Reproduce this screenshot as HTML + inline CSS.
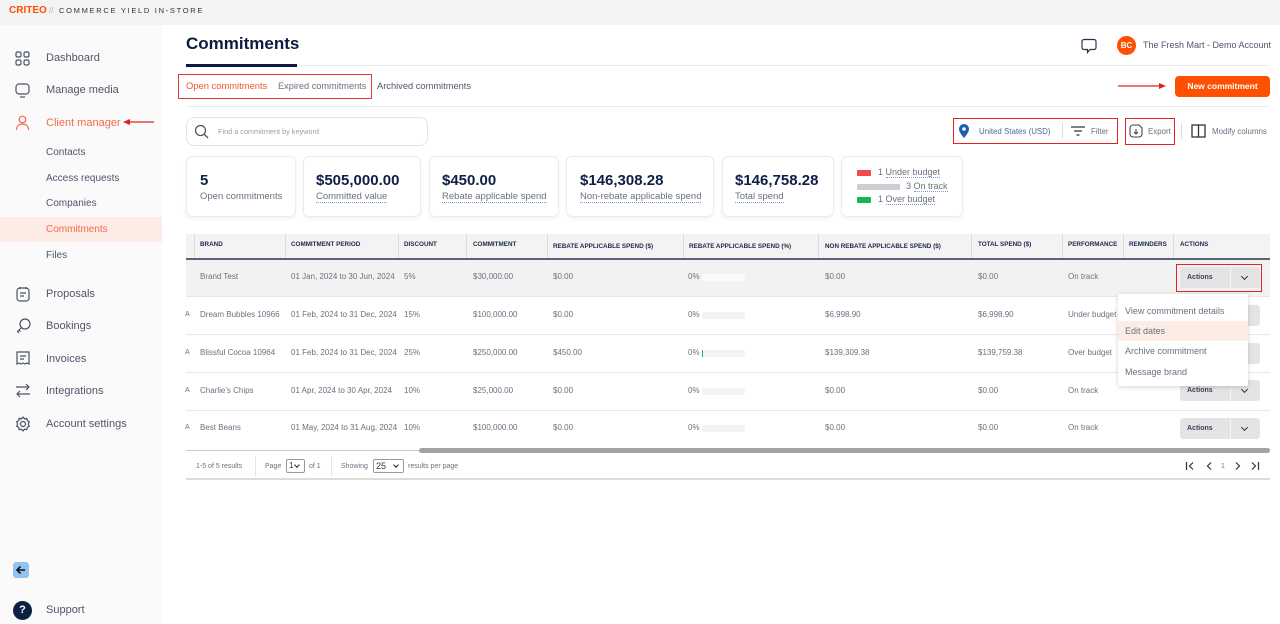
<!DOCTYPE html>
<html><head><meta charset="utf-8"><style>
*{margin:0;padding:0;box-sizing:border-box}
body{width:1280px;height:624px;overflow:hidden;background:#fff;font-family:"Liberation Sans",Arial,sans-serif;position:relative;color:#555d6e}
.a{position:absolute;white-space:nowrap}
.t{position:absolute;white-space:nowrap;line-height:12px;height:12px}
.nav{font-size:11px;color:#4f5668}
.sub{font-size:10px;color:#4f5668}
.th{position:absolute;white-space:nowrap;font-size:6.3px;font-weight:bold;color:#1d2748;line-height:8px}
.td{position:absolute;white-space:nowrap;font-size:8px;color:#6b7080;line-height:10px}
.vs{position:absolute;top:234px;width:1px;height:24px;background:#dcdcdc}
.card{position:absolute;top:156px;height:61px;border:1px solid #ececec;border-radius:6px;background:#fff;box-shadow:0 2px 4px rgba(0,0,0,.05)}
.cv{position:absolute;font-size:15px;font-weight:bold;color:#0f1f47;line-height:16px;white-space:nowrap}
.cl{position:absolute;font-size:9.5px;color:#6b7080;line-height:11px;white-space:nowrap}
.dl{border-bottom:1px dotted #7a9bd0}
.btn{position:absolute;width:80px;height:21px;background:#e4e4e4;border-radius:3px}
.btn span{position:absolute;left:7px;top:0;line-height:21px;font-size:7px;font-weight:bold;color:#3a4256}
.btn i{position:absolute;left:50px;top:0;width:1px;height:21px;background:#f4f4f4}
.btn b{position:absolute;left:62px;top:7px;width:5px;height:5px;border-right:1.3px solid #333;border-bottom:1.3px solid #333;transform:rotate(45deg)}
.bar{position:absolute;width:43px;height:7px;background:#f3f3f3;border-radius:2px}
.rl{position:absolute;left:186px;width:1084px;height:1px;background:#e8e8e8}
</style></head><body>

<!-- top bar -->
<div class="a" style="left:0;top:0;width:1280px;height:25px;background:#f3f3f3"></div>
<div class="t" style="left:9px;top:5px;font-size:10px;font-weight:bold;color:#fe5000;letter-spacing:0">CRITEO</div>
<div class="t" style="left:49px;top:5px;font-size:8px;color:#b5b5b5">//</div>
<div class="t" style="left:59px;top:5px;font-size:7.5px;color:#333;letter-spacing:1.7px">COMMERCE YIELD IN-STORE</div>

<!-- sidebar -->
<div class="a" style="left:0;top:25px;width:162px;height:599px;background:#fafafa"></div>
<svg class="a" style="left:15px;top:51px" width="15" height="15" viewBox="0 0 15 15" fill="none" stroke="#4a5268" stroke-width="1.2"><rect x="1" y="1" width="5" height="5" rx="1.5"/><rect x="9" y="1" width="5" height="5" rx="1.5"/><rect x="1" y="9" width="5" height="5" rx="1.5"/><rect x="9" y="9" width="5" height="5" rx="1.5"/></svg>
<div class="t nav" style="left:46px;top:52px">Dashboard</div>
<svg class="a" style="left:15px;top:83px" width="15" height="15" viewBox="0 0 15 15" fill="none" stroke="#4a5268" stroke-width="1.2"><rect x="1" y="1" width="13" height="10" rx="3"/><path d="M5 14h5"/></svg>
<div class="t nav" style="left:46px;top:84px">Manage media</div>
<svg class="a" style="left:15px;top:115px" width="15" height="16" viewBox="0 0 15 16" fill="none" stroke="#f26b4b" stroke-width="1.2"><circle cx="7.5" cy="4.5" r="3.3"/><path d="M1.5 15c0-4 2.5-6 6-6s6 2 6 6"/></svg>
<div class="t nav" style="left:46px;top:117px;color:#f26b4b">Client manager</div>
<svg class="a" style="left:123px;top:118px" width="32" height="8"><path d="M31 4H4" stroke="#e02020" stroke-width="1.2"/><path d="M0 4L7 1v6z" fill="#e02020"/></svg>
<div class="t sub" style="left:46px;top:147px">Contacts</div>
<div class="t sub" style="left:46px;top:173px">Access requests</div>
<div class="t sub" style="left:46px;top:198px">Companies</div>
<div class="a" style="left:0;top:217px;width:162px;height:25px;background:#fdebe5"></div>
<div class="t sub" style="left:46px;top:224px;color:#f26b4b">Commitments</div>
<div class="t sub" style="left:46px;top:250px">Files</div>
<svg class="a" style="left:16px;top:286px" width="14" height="16" viewBox="0 0 14 16" fill="none" stroke="#4a5268" stroke-width="1.2"><rect x="1" y="2" width="12" height="13" rx="3"/><path d="M4 1v2M10 1v2M4 7h6M4 10h4"/></svg>
<div class="t nav" style="left:46px;top:288px">Proposals</div>
<svg class="a" style="left:16px;top:318px" width="15" height="16" viewBox="0 0 15 16" fill="none" stroke="#4a5268" stroke-width="1.2"><circle cx="9" cy="6" r="5"/><path d="M5.5 9.5L1.5 13.5l1.5 1.5M3 12l1.5 1.5"/></svg>
<div class="t nav" style="left:46px;top:320px">Bookings</div>
<svg class="a" style="left:16px;top:351px" width="14" height="15" viewBox="0 0 14 15" fill="none" stroke="#4a5268" stroke-width="1.2"><path d="M1 1h12v12l-2-1-2 1-2-1-2 1-2-1-2 1z"/><path d="M4 5h6M4 8h4"/></svg>
<div class="t nav" style="left:46px;top:353px">Invoices</div>
<svg class="a" style="left:15px;top:383px" width="16" height="15" viewBox="0 0 16 15" fill="none" stroke="#4a5268" stroke-width="1.2"><path d="M1 4h13M11 1l3 3-3 3M15 11H2M5 8l-3 3 3 3"/></svg>
<div class="t nav" style="left:46px;top:385px">Integrations</div>
<svg class="a" style="left:15px;top:416px" width="16" height="16" viewBox="0 0 16 16" fill="none" stroke="#4a5268" stroke-width="1.2"><circle cx="8" cy="8" r="2.5"/><path d="M8 1l1.5 1.8 2.3-.5.5 2.3 2 1.2-1 2.2 1 2.2-2 1.2-.5 2.3-2.3-.5L8 15l-1.5-1.8-2.3.5-.5-2.3-2-1.2 1-2.2-1-2.2 2-1.2.5-2.3 2.3.5z"/></svg>
<div class="t nav" style="left:46px;top:418px">Account settings</div>
<div class="a" style="left:13px;top:562px;width:16px;height:16px;background:#93c2f2;border-radius:3px"></div>
<svg class="a" style="left:15px;top:564px" width="12" height="12"><path d="M10 6H2M5.5 2.5L2 6l3.5 3.5" fill="none" stroke="#111" stroke-width="1.6"/></svg>
<div class="a" style="left:13px;top:601px;width:19px;height:19px;border-radius:50%;background:#0d1f45;color:#fff;font-size:11px;font-weight:bold;text-align:center;line-height:19px">?</div>
<div class="t nav" style="left:46px;top:604px">Support</div>

<!-- header -->
<div class="a" style="left:186px;top:34px;font-size:17px;font-weight:bold;color:#0d1b3e;line-height:20px">Commitments</div>
<div class="a" style="left:186px;top:65px;width:1084px;height:1px;background:#ebebeb"></div>
<div class="a" style="left:186px;top:64px;width:111px;height:3px;background:#0d1b3e"></div>
<svg class="a" style="left:1081px;top:38px" width="16" height="16" viewBox="0 0 16 16" fill="none" stroke="#2a3350" stroke-width="1.2"><path d="M3 1.5h10a2 2 0 0 1 2 2v6a2 2 0 0 1-2 2H9l-2.5 3v-3H3a2 2 0 0 1-2-2v-6a2 2 0 0 1 2-2z"/></svg>
<div class="a" style="left:1117px;top:36px;width:19px;height:19px;border-radius:50%;background:#fe5000;color:#fff;font-size:8px;font-weight:bold;text-align:center;line-height:19px">BC</div>
<div class="t" style="left:1143px;top:39px;font-size:9px;color:#4f5668">The Fresh Mart - Demo Account</div>

<!-- tabs -->
<div class="t" style="left:186px;top:80px;font-size:9.4px;color:#f2542d">Open commitments</div>
<div class="t" style="left:278px;top:80px;font-size:9.2px;color:#6b7080">Expired commitments</div>
<div class="t" style="left:377px;top:80px;font-size:9.3px;color:#4f5668">Archived commitments</div>
<div class="a" style="left:178px;top:74px;width:194px;height:25px;border:1.5px solid #e23a3a"></div>
<div class="a" style="left:186px;top:106px;width:1084px;height:1px;background:#ebebeb"></div>
<svg class="a" style="left:1118px;top:82px" width="48" height="8"><path d="M0 4h42" stroke="#e02020" stroke-width="1.2"/><path d="M48 4l-7-3v6z" fill="#e02020"/></svg>
<div class="a" style="left:1175px;top:76px;width:95px;height:21px;background:#fe5000;border-radius:4px;color:#fff;font-size:8.5px;font-weight:bold;text-align:center;line-height:21px">New commitment</div>

<!-- search + toolbar -->
<div class="a" style="left:186px;top:117px;width:242px;height:29px;border:1px solid #e3e3e3;border-radius:8px"></div>
<svg class="a" style="left:194px;top:124px" width="15" height="15" fill="none" stroke="#555" stroke-width="1.3"><circle cx="6.5" cy="6.5" r="5"/><path d="M10 10l4 4"/></svg>
<div class="t" style="left:218px;top:126px;font-size:7.3px;color:#9a9ea8">Find a commitment by keyword</div>

<div class="a" style="left:953px;top:118px;width:165px;height:26px;border:1.5px solid #e02424"></div>
<svg class="a" style="left:959px;top:124px" width="10" height="14" viewBox="0 0 10 14"><path d="M5 0a5 5 0 0 1 5 5c0 3.5-5 9-5 9S0 8.5 0 5a5 5 0 0 1 5-5z" fill="#1a5fb4"/><circle cx="5" cy="5" r="1.8" fill="#fff"/></svg>
<div class="t" style="left:979px;top:126px;font-size:7.9px;color:#4e6a94">United States (USD)</div>
<div class="a" style="left:1062px;top:123px;width:1px;height:16px;background:#ddd"></div>
<svg class="a" style="left:1071px;top:125px" width="14" height="12" stroke="#333" stroke-width="1.3"><path d="M0 2h14M3 6h8M5.5 10h3"/></svg>
<div class="t" style="left:1091px;top:126px;font-size:7.9px;color:#6b7080">Filter</div>
<div class="a" style="left:1125px;top:118px;width:50px;height:27px;border:1.5px solid #e02424"></div>
<svg class="a" style="left:1129px;top:124px" width="14" height="14" fill="none" stroke="#444" stroke-width="1.1"><path d="M4 1h6l3 3v6a3 3 0 0 1-3 3H4a3 3 0 0 1-3-3V4a3 3 0 0 1 3-3z"/><path d="M7 5v5M5 8l2 2 2-2"/></svg>
<div class="t" style="left:1148px;top:126px;font-size:7.9px;color:#6b7080">Export</div>
<div class="a" style="left:1181px;top:123px;width:1px;height:16px;background:#ddd"></div>
<svg class="a" style="left:1191px;top:124px" width="15" height="14" fill="none" stroke="#333" stroke-width="1.3"><rect x="1" y="1" width="13" height="12"/><path d="M7.5 1v12"/></svg>
<div class="t" style="left:1212px;top:126px;font-size:7.9px;color:#6b7080">Modify columns</div>

<!-- cards -->
<div class="card" style="left:186px;width:110px"></div>
<div class="cv" style="left:200px;top:173px">5</div>
<div class="cl" style="left:200px;top:191px">Open commitments</div>
<div class="card" style="left:303px;width:118px"></div>
<div class="cv" style="left:316px;top:173px">$505,000.00</div>
<div class="cl dl" style="left:316px;top:191px">Committed value</div>
<div class="card" style="left:429px;width:130px"></div>
<div class="cv" style="left:442px;top:173px">$450.00</div>
<div class="cl dl" style="left:442px;top:191px">Rebate applicable spend</div>
<div class="card" style="left:566px;width:148px"></div>
<div class="cv" style="left:580px;top:173px">$146,308.28</div>
<div class="cl dl" style="left:580px;top:191px">Non-rebate applicable spend</div>
<div class="card" style="left:722px;width:112px"></div>
<div class="cv" style="left:735px;top:173px">$146,758.28</div>
<div class="cl dl" style="left:735px;top:191px">Total spend</div>
<div class="card" style="left:841px;width:122px"></div>
<div class="a" style="left:857px;top:170px;width:14px;height:6px;background:#ee4b4b;border-radius:1px"></div>
<div class="cl" style="left:878px;top:167px;font-size:9px">1 <span class="dl">Under budget</span></div>
<div class="a" style="left:857px;top:184px;width:43px;height:6px;background:#cdcdd2;border-radius:1px"></div>
<div class="cl" style="left:906px;top:181px;font-size:9px">3 <span class="dl">On track</span></div>
<div class="a" style="left:857px;top:197px;width:14px;height:6px;background:#14b854;border-radius:1px"></div>
<div class="cl" style="left:878px;top:194px;font-size:9px">1 <span class="dl">Over budget</span></div>

<!-- table header -->
<div class="a" style="left:186px;top:234px;width:1084px;height:24px;background:#f3f3f3"></div>
<div class="vs" style="left:194px"></div><div class="vs" style="left:285px"></div><div class="vs" style="left:398px"></div><div class="vs" style="left:466px"></div><div class="vs" style="left:547px"></div><div class="vs" style="left:683px"></div><div class="vs" style="left:818px"></div><div class="vs" style="left:971px"></div><div class="vs" style="left:1062px"></div><div class="vs" style="left:1123px"></div><div class="vs" style="left:1173px"></div>
<div class="th" style="left:200px;top:241px">BRAND</div>
<div class="th" style="left:291px;top:241px">COMMITMENT PERIOD</div>
<div class="th" style="left:404px;top:241px">DISCOUNT</div>
<div class="th" style="left:473px;top:241px">COMMITMENT</div>
<div class="th" style="left:553px;top:243px">REBATE APPLICABLE SPEND ($)</div>
<div class="th" style="left:689px;top:243px">REBATE APPLICABLE SPEND (%)</div>
<div class="th" style="left:825px;top:243px">NON REBATE APPLICABLE SPEND ($)</div>
<div class="th" style="left:978px;top:241px">TOTAL SPEND ($)</div>
<div class="th" style="left:1068px;top:241px">PERFORMANCE</div>
<div class="th" style="left:1129px;top:241px">REMINDERS</div>
<div class="th" style="left:1180px;top:241px">ACTIONS</div>
<div class="a" style="left:186px;top:258px;width:1084px;height:2px;background:#5b6478"></div>

<!-- rows -->
<div class="a" style="left:186px;top:260px;width:1084px;height:36px;background:#f2f2f2"></div>
<div class="rl" style="top:296px"></div><div class="rl" style="top:334px"></div><div class="rl" style="top:372px"></div><div class="rl" style="top:410px"></div>

<div class="td" style="left:200px;top:272px">Brand Test</div>
<div class="td" style="left:291px;top:272px">01 Jan, 2024 to 30 Jun, 2024</div>
<div class="td" style="left:404px;top:272px">5%</div>
<div class="td" style="left:473px;top:272px">$30,000.00</div>
<div class="td" style="left:553px;top:272px">$0.00</div>
<div class="td" style="left:688px;top:272px">0%</div><div class="bar" style="left:702px;top:274px;background:#fafafa"></div>
<div class="td" style="left:825px;top:272px">$0.00</div>
<div class="td" style="left:978px;top:272px">$0.00</div>
<div class="td" style="left:1068px;top:272px">On track</div>
<div class="btn" style="left:1180px;top:267px"><span>Actions</span><i></i><b></b></div>
<div class="a" style="left:1176px;top:264px;width:86px;height:28px;border:1.5px solid #e02424"></div>

<div class="td" style="left:185px;top:310px;font-size:7px">A</div>
<div class="td" style="left:200px;top:310px">Dream Bubbles 10966</div>
<div class="td" style="left:291px;top:310px">01 Feb, 2024 to 31 Dec, 2024</div>
<div class="td" style="left:404px;top:310px">15%</div>
<div class="td" style="left:473px;top:310px">$100,000.00</div>
<div class="td" style="left:553px;top:310px">$0.00</div>
<div class="td" style="left:688px;top:310px">0%</div><div class="bar" style="left:702px;top:312px"></div>
<div class="td" style="left:825px;top:310px">$6,998.90</div>
<div class="td" style="left:978px;top:310px">$6,998.90</div>
<div class="td" style="left:1068px;top:310px">Under budget</div>
<div class="btn" style="left:1180px;top:305px"><span>Actions</span><i></i><b></b></div>

<div class="td" style="left:185px;top:348px;font-size:7px">A</div>
<div class="td" style="left:200px;top:348px">Blissful Cocoa 10964</div>
<div class="td" style="left:291px;top:348px">01 Feb, 2024 to 31 Dec, 2024</div>
<div class="td" style="left:404px;top:348px">25%</div>
<div class="td" style="left:473px;top:348px">$250,000.00</div>
<div class="td" style="left:553px;top:348px">$450.00</div>
<div class="td" style="left:688px;top:348px">0%</div><div class="bar" style="left:702px;top:350px"></div><div class="a" style="left:702px;top:350px;width:1px;height:7px;background:#14b854"></div>
<div class="td" style="left:825px;top:348px">$139,309.38</div>
<div class="td" style="left:978px;top:348px">$139,759.38</div>
<div class="td" style="left:1068px;top:348px">Over budget</div>
<div class="btn" style="left:1180px;top:343px"><span>Actions</span><i></i><b></b></div>

<div class="td" style="left:185px;top:386px;font-size:7px">A</div>
<div class="td" style="left:200px;top:386px">Charlie's Chips</div>
<div class="td" style="left:291px;top:386px">01 Apr, 2024 to 30 Apr, 2024</div>
<div class="td" style="left:404px;top:386px">10%</div>
<div class="td" style="left:473px;top:386px">$25,000.00</div>
<div class="td" style="left:553px;top:386px">$0.00</div>
<div class="td" style="left:688px;top:386px">0%</div><div class="bar" style="left:702px;top:388px"></div>
<div class="td" style="left:825px;top:386px">$0.00</div>
<div class="td" style="left:978px;top:386px">$0.00</div>
<div class="td" style="left:1068px;top:386px">On track</div>
<div class="btn" style="left:1180px;top:380px"><span>Actions</span><i></i><b></b></div>

<div class="td" style="left:185px;top:423px;font-size:7px">A</div>
<div class="td" style="left:200px;top:423px">Best Beans</div>
<div class="td" style="left:291px;top:423px">01 May, 2024 to 31 Aug, 2024</div>
<div class="td" style="left:404px;top:423px">10%</div>
<div class="td" style="left:473px;top:423px">$100,000.00</div>
<div class="td" style="left:553px;top:423px">$0.00</div>
<div class="td" style="left:688px;top:423px">0%</div><div class="bar" style="left:702px;top:425px"></div>
<div class="td" style="left:825px;top:423px">$0.00</div>
<div class="td" style="left:978px;top:423px">$0.00</div>
<div class="td" style="left:1068px;top:423px">On track</div>
<div class="btn" style="left:1180px;top:418px"><span>Actions</span><i></i><b></b></div>

<!-- dropdown -->
<div class="a" style="left:1118px;top:294px;width:130px;height:92px;background:#fff;box-shadow:0 1px 5px rgba(0,0,0,.18);border-radius:2px"></div>
<div class="a" style="left:1118px;top:321px;width:130px;height:20px;background:#fdece4"></div>
<div class="td" style="left:1125px;top:305px;font-size:9px;line-height:12px">View commitment details</div>
<div class="td" style="left:1125px;top:325px;font-size:9px;line-height:12px">Edit dates</div>
<div class="td" style="left:1125px;top:345px;font-size:9px;line-height:12px">Archive commitment</div>
<div class="td" style="left:1125px;top:366px;font-size:9px;line-height:12px">Message brand</div>

<!-- scrollbar -->
<div class="a" style="left:186px;top:450px;width:1084px;height:1px;background:#c8c8c8"></div>
<div class="a" style="left:419px;top:448px;width:851px;height:5px;background:#a3a3a3;border-radius:3px"></div>

<!-- footer -->
<div class="td" style="left:196px;top:461px;font-size:7px;line-height:12px">1-5 of 5 results</div>
<div class="a" style="left:255px;top:456px;width:1px;height:20px;background:#e5e5e5"></div>
<div class="td" style="left:265px;top:461px;font-size:7px;line-height:12px">Page</div>
<div class="a" style="left:286px;top:459px;width:19px;height:14px;border:1px solid #999;border-radius:2px;font-size:8px;line-height:12px;padding-left:2px;color:#333">1</div>
<div class="a" style="left:295px;top:463px;width:4px;height:4px;border-right:1.3px solid #222;border-bottom:1.3px solid #222;transform:rotate(45deg)"></div>
<div class="td" style="left:309px;top:461px;font-size:7px;line-height:12px">of 1</div>
<div class="a" style="left:331px;top:456px;width:1px;height:20px;background:#e5e5e5"></div>
<div class="td" style="left:341px;top:461px;font-size:7px;line-height:12px">Showing</div>
<div class="a" style="left:373px;top:459px;width:31px;height:14px;border:1px solid #999;border-radius:2px;font-size:9px;line-height:12px;padding-left:2px;color:#333">25</div>
<div class="a" style="left:394px;top:463px;width:4px;height:4px;border-right:1.3px solid #222;border-bottom:1.3px solid #222;transform:rotate(45deg)"></div>
<div class="td" style="left:408px;top:461px;font-size:7px;line-height:12px">results per page</div>
<svg class="a" style="left:1185px;top:461px" width="80" height="10" fill="none" stroke="#333" stroke-width="1.2"><path d="M1.5 1v8M8 1.5L4.5 5 8 8.5"/><path d="M26 1.5L22.5 5 26 8.5"/><path d="M51 1.5L54.5 5 51 8.5"/><path d="M67 1.5L70.5 5 67 8.5M73.5 1v8"/></svg>
<div class="td" style="left:1221px;top:462px;font-size:7px;color:#4e7fc4">1</div>
<div class="a" style="left:186px;top:478px;width:1084px;height:2px;background:#dcdcdc"></div>

</body></html>
